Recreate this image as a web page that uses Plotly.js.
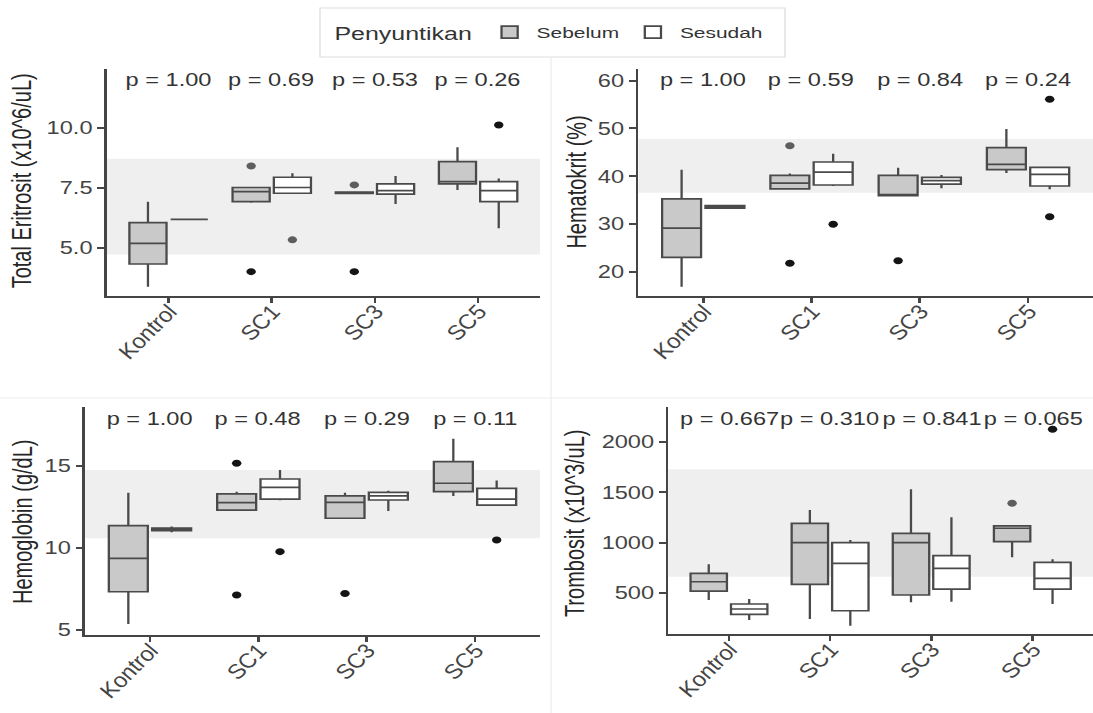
<!DOCTYPE html>
<html>
<head>
<meta charset="utf-8">
<script src="https://cdn.plot.ly/plotly-3.0.1.min.js"></script>
<style>
  html, body { margin: 0; padding: 0; background: #fff; }
  #wrap { width: 1093px; height: 713px; overflow: hidden; position: relative; }
  #plot { width: 810px; height: 713px; transform: scaleX(1.349383); transform-origin: 0 0; }
</style>
</head>
<body>
<div id="wrap"><div id="plot"></div></div>
<script>
// ---------- data ----------
const categories = ['Kontrol', 'SC1', 'SC3', 'SC5'];
const groups = ['Sebelum', 'Sesudah'];

// Total Eritrosit
const eriSebLow = [3.37, 6.88, 7.27, 7.42];
const eriSebQ1  = [4.32, 6.93, 7.27, 7.67];
const eriSebMed = [5.18, 7.35, 7.30, 7.77];
const eriSebQ3  = [6.05, 7.52, 7.33, 8.60];
const eriSebHigh= [6.92, 7.52, 7.33, 9.20];
const eriSesLow = [6.19, 7.25, 6.83, 5.82];
const eriSesQ1  = [6.19, 7.28, 7.24, 6.93];
const eriSesMed = [6.19, 7.52, 7.39, 7.39];
const eriSesQ3  = [6.19, 7.95, 7.67, 7.77];
const eriSesHigh= [6.19, 8.12, 8.00, 7.90];
const eriOutCat = [2, 2, 2, 3, 3, 4];
const eriOutGrp = [0, 0, 1, 0, 0, 1];
const eriOutVal = [8.42, 4.00, 5.33, 7.63, 4.00, 10.14];
const eriOutDark= [0, 1, 0, 0, 1, 1];
const eriP = ['p = 1.00', 'p = 0.69', 'p = 0.53', 'p = 0.26'];
const eriRef = [4.72, 8.72];

// Hematokrit
const hctSebLow = [17.0, 37.2, 36.0, 40.7];
const hctSebQ1  = [23.1, 37.4, 36.0, 41.4];
const hctSebMed = [29.2, 38.6, 36.2, 42.5];
const hctSebQ3  = [35.3, 40.2, 40.2, 46.0];
const hctSebHigh= [41.4, 40.6, 41.8, 49.9];
const hctSesLow = [33.4, 38.0, 37.5, 37.3];
const hctSesQ1  = [33.4, 38.2, 38.4, 38.0];
const hctSesMed = [33.7, 40.9, 39.1, 40.4];
const hctSesQ3  = [33.9, 43.0, 39.8, 41.9];
const hctSesHigh= [34.0, 44.7, 40.3, 42.0];
const hctOutCat = [2, 2, 2, 3, 4, 4];
const hctOutGrp = [0, 0, 1, 0, 1, 1];
const hctOutVal = [46.4, 21.9, 30.0, 22.4, 56.1, 31.6];
const hctOutDark= [0, 1, 1, 1, 1, 1];
const hctP = ['p = 1.00', 'p = 0.59', 'p = 0.84', 'p = 0.24'];
const hctRef = [36.6, 47.8];

// Hemoglobin
const hbSebLow = [5.37, 12.30, 11.80, 13.16];
const hbSebQ1  = [7.33, 12.30, 11.80, 13.42];
const hbSebMed = [9.36, 12.75, 12.77, 13.93];
const hbSebQ3  = [11.35, 13.28, 13.16, 15.24];
const hbSebHigh= [13.36, 13.42, 13.36, 16.63];
const hbSesLow = [10.95, 12.90, 12.24, 12.60];
const hbSesQ1  = [11.05, 12.97, 12.91, 12.60];
const hbSesMed = [11.13, 13.68, 13.16, 12.97];
const hbSesQ3  = [11.20, 14.19, 13.38, 13.62];
const hbSesHigh= [11.30, 14.74, 13.48, 14.09];
const hbOutCat = [2, 2, 2, 3, 4];
const hbOutGrp = [0, 0, 1, 0, 1];
const hbOutVal = [15.15, 7.13, 9.77, 7.23, 10.48];
const hbOutDark= [1, 1, 1, 1, 1];
const hbP = ['p = 1.00', 'p = 0.48', 'p = 0.29', 'p = 0.11'];
const hbRef = [10.58, 14.74];

// Trombosit
const pltSebLow = [428, 238, 405, 853];
const pltSebQ1  = [517, 584, 478, 1009];
const pltSebMed = [610, 1000, 1000, 1143];
const pltSebQ3  = [694, 1192, 1093, 1166];
const pltSebHigh= [784, 1325, 1531, 1170];
const pltSesLow = [228, 172, 411, 388];
const pltSesQ1  = [285, 321, 537, 537];
const pltSesMed = [338, 794, 744, 644];
const pltSesQ3  = [388, 1000, 870, 804];
const pltSesHigh= [437, 1026, 1252, 833];
const pltOutCat = [4, 4];
const pltOutGrp = [0, 1];
const pltOutVal = [1392, 2130];
const pltOutDark= [0, 1];
const pltP = ['p = 0.667', 'p = 0.310', 'p = 0.841', 'p = 0.065'];
const pltRef = [660, 1731];

// ---------- styling ----------
const FONT = 'Liberation Sans, Arial, Helvetica, sans-serif';
const fills = ['#c9c9c9', '#ffffff'];
const boxLine = '#4a4a4a';
const dodge = [-0.2, 0.2];
const W = 1093, H = 713;

const panels = [
  {ax: '', sebL: eriSebLow, sebQ1: eriSebQ1, sebM: eriSebMed, sebQ3: eriSebQ3, sebH: eriSebHigh,
   sesL: eriSesLow, sesQ1: eriSesQ1, sesM: eriSesMed, sesQ3: eriSesQ3, sesH: eriSesHigh,
   oc: eriOutCat, og: eriOutGrp, ov: eriOutVal, od: eriOutDark, p: eriP, ref: eriRef,
   title: 'Total Eritrosit (x10^6/uL)', range: [2.98, 12.48], dtick: 2.5, fmt: '.1f', py: 12.0,
   xd: [106.7, 540], yd: [69, 296], tx: 22, ty: 181},
  {ax: '2', sebL: hctSebLow, sebQ1: hctSebQ1, sebM: hctSebMed, sebQ3: hctSebQ3, sebH: hctSebHigh,
   sesL: hctSesLow, sesQ1: hctSesQ1, sesM: hctSesMed, sesQ3: hctSesQ3, sesH: hctSesHigh,
   oc: hctOutCat, og: hctOutGrp, ov: hctOutVal, od: hctOutDark, p: hctP, ref: hctRef,
   title: 'Hematokrit (%)', range: [15.05, 62.4], dtick: 10, fmt: 'd', py: 60.1,
   xd: [638.3, 1093], yd: [69, 296], tx: 577, ty: 182},
  {ax: '3', sebL: hbSebLow, sebQ1: hbSebQ1, sebM: hbSebMed, sebQ3: hbSebQ3, sebH: hbSebHigh,
   sesL: hbSesLow, sesQ1: hbSesQ1, sesM: hbSesMed, sesQ3: hbSesQ3, sesH: hbSesHigh,
   oc: hbOutCat, og: hbOutGrp, ov: hbOutVal, od: hbOutDark, p: hbP, ref: hbRef,
   title: 'Hemoglobin (g/dL)', range: [4.7, 18.55], dtick: 5, fmt: 'd', py: 17.85,
   xd: [85, 540], yd: [407.3, 635], tx: 23, ty: 522},
  {ax: '4', sebL: pltSebLow, sebQ1: pltSebQ1, sebM: pltSebMed, sebQ3: pltSebQ3, sebH: pltSebHigh,
   sesL: pltSesLow, sesQ1: pltSesQ1, sesM: pltSesMed, sesQ3: pltSesQ3, sesH: pltSesHigh,
   oc: pltOutCat, og: pltOutGrp, ov: pltOutVal, od: pltOutDark, p: pltP, ref: pltRef,
   title: 'Trombosit (x10^3/uL)', range: [89, 2355], dtick: 500, fmt: 'd', py: 2230,
   xd: [668.3, 1093], yd: [406.7, 634], tx: 575, ty: 523}
];

const traces = [];
const layout = {
  width: 810, height: H,
  margin: {l: 0, r: 0, t: 0, b: 0},
  paper_bgcolor: '#fff', plot_bgcolor: '#fff',
  font: {family: FONT, color: '#333'},
  hovermode: false,
  showlegend: true,
  legend: {
    orientation: 'h', x: 551 / W, xanchor: 'center', y: 1 - 33 / H, yanchor: 'middle',
    bgcolor: 'rgba(0,0,0,0)', borderwidth: 0,
    font: {family: FONT, size: 15.5, color: '#333'},
    title: {text: 'Penyuntikan', side: 'left', font: {family: FONT, size: 18.5, color: '#333'}},
    itemwidth: 30
  },
  shapes: [
    {type: 'rect', xref: 'paper', yref: 'paper', x0: 320 / W, x1: 785 / W, y0: 1 - 57 / H, y1: 1 - 8 / H,
     line: {color: '#dedede', width: 1}, fillcolor: 'rgba(0,0,0,0)'},
    {type: 'line', xref: 'paper', yref: 'paper', x0: 551 / W, x1: 551 / W, y0: 0, y1: 1 - 58 / H,
     line: {color: '#ededed', width: 1}},
    {type: 'line', xref: 'paper', yref: 'paper', x0: 0, x1: 1, y0: 1 - 398 / H, y1: 1 - 398 / H,
     line: {color: '#ededed', width: 1}}
  ],
  annotations: []
};

panels.forEach((pn, k) => {
  const xa = 'x' + pn.ax, ya = 'y' + pn.ax;
  const stats = [
    [pn.sebL, pn.sebQ1, pn.sebM, pn.sebQ3, pn.sebH],
    [pn.sesL, pn.sesQ1, pn.sesM, pn.sesQ3, pn.sesH]
  ];
  groups.forEach((g, gi) => {
    const st = stats[gi];
    traces.push({
      type: 'box', name: g, legendgroup: g, showlegend: k === 0,
      xaxis: xa, yaxis: ya,
      x: categories.map((c, i) => i + 1 + dodge[gi]),
      lowerfence: st[0], q1: st[1], median: st[2], q3: st[3], upperfence: st[4],
      boxpoints: false, width: 0.36, whiskerwidth: 0,
      fillcolor: fills[gi], line: {color: boxLine, width: 1.7}
    });
  });
  traces.push({
    type: 'scatter', mode: 'markers', showlegend: false, xaxis: xa, yaxis: ya,
    x: pn.oc.map((c, i) => c + dodge[pn.og[i]]), y: pn.ov,
    marker: {size: 7, color: pn.od.map(d => d ? '#141414' : '#5e5e5e'), line: {width: 0}}
  });

  const xKey = 'xaxis' + pn.ax, yKey = 'yaxis' + pn.ax;
  layout[xKey] = {
    domain: [pn.xd[0] / W, pn.xd[1] / W], range: [0.4, 4.6], anchor: ya,
    tickmode: 'array', tickvals: categories.map((c, i) => i + 1), ticktext: categories,
    tickangle: -53, tickfont: {family: FONT, size: 19, style: 'italic', color: '#444'},
    ticklabelstandoff: -10,
    showline: true, linecolor: '#454545', linewidth: 2,
    ticks: 'outside', ticklen: 5, tickwidth: 2, tickcolor: '#454545',
    showgrid: false, zeroline: false, automargin: false, fixedrange: true
  };
  layout[yKey] = {
    domain: [1 - pn.yd[1] / H, 1 - pn.yd[0] / H], range: pn.range, anchor: xa,
    dtick: pn.dtick, tick0: 0, tickformat: pn.fmt,
    tickfont: {family: FONT, size: 17.5, color: '#444'},
    showline: true, linecolor: '#454545', linewidth: 2,
    ticks: 'outside', ticklen: 5, tickwidth: 2, tickcolor: '#454545',
    showgrid: false, zeroline: false, automargin: false, fixedrange: true
  };
  layout.shapes.push({
    type: 'rect', xref: xa + ' domain', yref: ya, x0: 0, x1: 1, y0: pn.ref[0], y1: pn.ref[1],
    fillcolor: '#efefef', line: {width: 0}, layer: 'below'
  });
  pn.p.forEach((t, i) => {
    layout.annotations.push({
      xref: xa, yref: ya, x: i + 1, y: pn.py, text: t, showarrow: false,
      xanchor: 'center', yanchor: 'middle',
      font: {family: FONT, size: 17.5, color: '#333'}
    });
  });
  layout.annotations.push({
    xref: 'paper', yref: 'paper', x: pn.tx / W, y: 1 - pn.ty / H, text: pn.title,
    showarrow: false, textangle: -90, xanchor: 'center', yanchor: 'middle',
    font: {family: FONT, size: 20, color: '#262626'}
  });
});

Plotly.newPlot('plot', traces, layout, {displayModeBar: false, staticPlot: true});
</script>
</body>
</html>
